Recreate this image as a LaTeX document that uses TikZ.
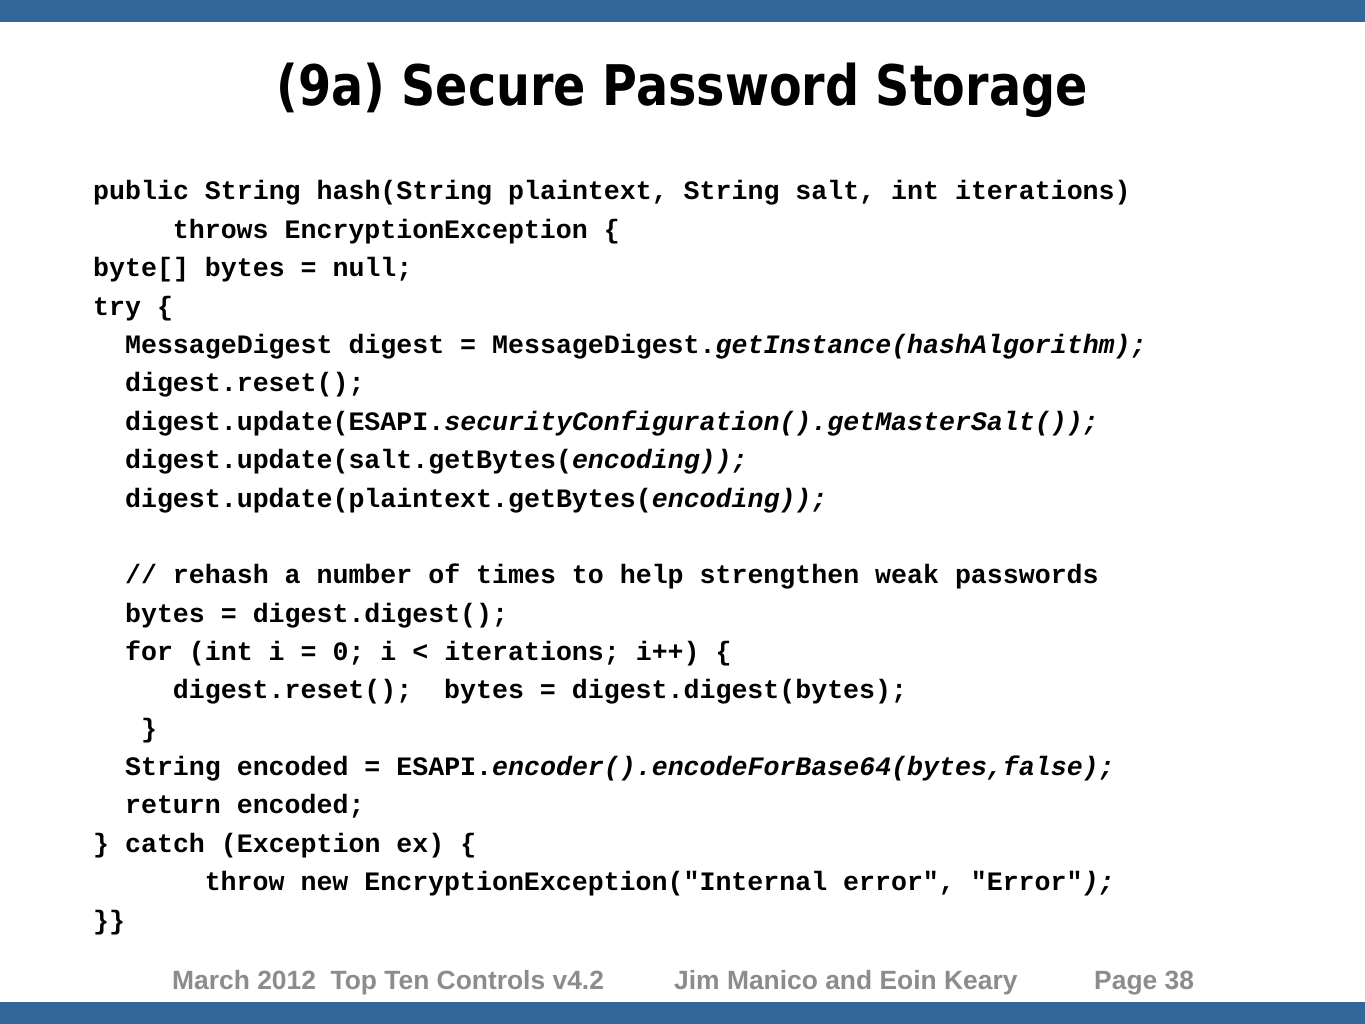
\documentclass[tikz,border=0pt]{standalone}
\usepackage{fontspec}
\setmainfont{Liberation Sans}
\setmonofont{Liberation Mono}
\newfontfamily\titlefont{DejaVu Sans Condensed}[BoldFont={DejaVu Sans Condensed Bold}]
\definecolor{slidebar}{RGB}{51,102,153}
\definecolor{footgray}{RGB}{140,140,140}
\newcommand{\codeit}[1]{{\itshape #1}}
\def\cw{15.94}

\tikzset{
	code/.style={anchor=base west, inner sep=0pt, font=\ttfamily\bfseries\fontsize{26.6}{30}\selectfont},
	foot/.style={anchor=base west, inner sep=0pt, text=footgray, font=\bfseries\fontsize{26.4}{30}\selectfont},
	bar/.style={fill=slidebar}
}

\begin{document}
\begin{tikzpicture}[x=1pt, y=-1pt]
	\fill[white] (0,0) rectangle (1365,1024);
	\useasboundingbox (0,0) rectangle (1365,1024);
	\fill[bar] (0,0) rectangle (1365,22.5);
	\fill[bar] (0,1002) rectangle (1365,1024);

	\node[anchor=base, inner sep=0pt, font=\titlefont\bfseries\fontsize{56}{60}\selectfont] (title) at (682,106) {\scalebox{0.945}[1]{(9a) Secure Password Storage}};

	\node[code] (l1) at (93,200) {public String hash(String plaintext, String salt, int iterations)};
	\node[code] (l2) at ({93+5*\cw},238.4) {throws EncryptionException \{};
	\node[code] (l3) at (93,276.7) {byte[] bytes = null;};
	\node[code] (l4) at (93,315.1) {try \{};
	\node[code] (l5) at ({93+2*\cw},353.5) {MessageDigest digest = MessageDigest.\codeit{getInstance(hashAlgorithm);}};
	\node[code] (l6) at ({93+2*\cw},391.9) {digest.reset();};
	\node[code] (l7) at ({93+2*\cw},430.2) {digest.update(ESAPI.\codeit{securityConfiguration().getMasterSalt());}};
	\node[code] (l8) at ({93+2*\cw},468.6) {digest.update(salt.getBytes(\codeit{encoding));}};
	\node[code] (l9) at ({93+2*\cw},507.0) {digest.update(plaintext.getBytes(\codeit{encoding));}};

	\node[code] (l11) at ({93+2*\cw},583.7) {// rehash a number of times to help strengthen weak passwords};
	\node[code] (l12) at ({93+2*\cw},622.1) {bytes = digest.digest();};
	\node[code] (l13) at ({93+2*\cw},660.4) {for (int i = 0; i < iterations; i++) \{};
	\node[code] (l14) at ({93+5*\cw},698.8) {digest.reset();\ \ bytes = digest.digest(bytes);};
	\node[code] (l15) at ({93+3*\cw},737.2) {\}};
	\node[code] (l16) at ({93+2*\cw},775.6) {String encoded = ESAPI.\codeit{encoder().encodeForBase64(bytes,false);}};
	\node[code] (l17) at ({93+2*\cw},813.9) {return encoded;};
	\node[code] (l18) at (93,852.3) {\} catch (Exception ex) \{};
	\node[code] (l19) at ({93+7*\cw},890.7) {throw new EncryptionException("Internal error", "Error"\codeit{);}};
	\node[code] (l20) at (93,929.0) {\}\}};

	% footer
	\node[foot] (footdate) at (172,989) {March 2012\ \ Top Ten Controls v4.2};
	\node[foot] (footauthors) at (674,989) {Jim Manico and Eoin Keary};
	\node[foot] (footpage) at (1094,989) {Page 38};
\end{tikzpicture}
\end{document}
